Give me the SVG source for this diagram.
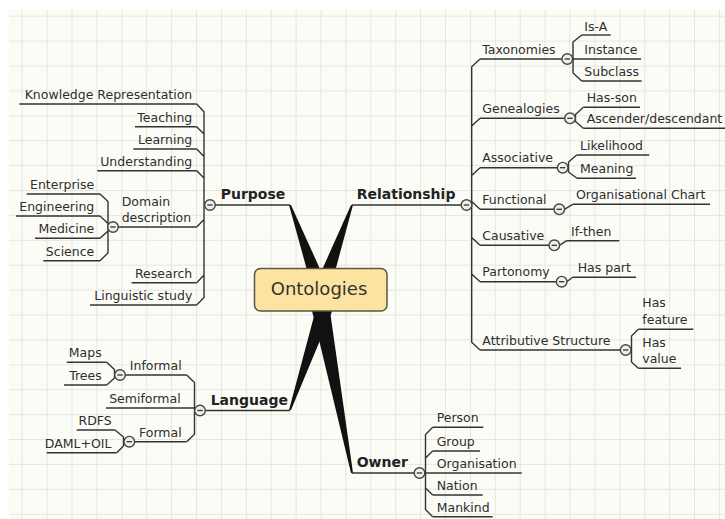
<svg xmlns="http://www.w3.org/2000/svg" width="725" height="519" viewBox="0 0 725 519">
<defs>
<pattern id="grid" patternUnits="userSpaceOnUse" x="21.7" y="15.7" width="24.9" height="24.9">
<path d="M0,0 H24.9 M0,0 V24.9" stroke="#e6e6df" stroke-width="2" fill="none"/>
</pattern>
<g id="btn"><circle r="5.3" fill="#efefec" stroke="#444" stroke-width="1.4"/><path d="M-2.7,0 H2.7" stroke="#333" stroke-width="1.3"/></g>
</defs>
<style>
text{font-family:"DejaVu Sans",Verdana,sans-serif;font-size:12.5px;fill:#2e2e2e}
.e{text-anchor:end}
.b{font-weight:bold;font-size:14px;fill:#222}
.ln{fill:none;stroke:#333;stroke-width:1.4}
.w{fill:#111}
</style>
<rect width="725" height="519" fill="#ffffff"/>
<rect x="9" y="10" width="716" height="509" fill="#fcfcf7"/>
<rect x="9" y="10" width="716" height="509" fill="url(#grid)"/>

<g id="connectors">
<polygon class="w" points="289,205 291,205 329.5,290 312.5,290"/>
<polygon class="w" points="351,205 353,205 330,290 313,290"/>
<polygon class="w" points="289,410 291,410 341,290 321,290"/>
<polygon class="w" points="351,473 353,473 327,290 307,290"/>
<path class="ln" d="M196.7,104 L204,111.7 V297.5 L196.7,305 M196.7,126.7 L204,134 M196.7,149 L204,156.5 M196.7,170.7 L204,178 M196.7,227 L204,219.5 M196.7,282.7 L204,275"/>
<path class="ln" d="M100,194 L108,201.5 V253 L100,260.7 M100,216 L108,223.5 M100,238.3 L108,231"/>
<path class="ln" d="M480,59 L471.7,66.7 V342.3 L480,350 M480,118.3 L471.7,126 M480,167.7 L471.7,175.4 M480,209.3 L471.7,201.6 M480,245.3 L471.7,237.6 M480,281.7 L471.7,274"/>
<path class="ln" d="M581.7,35 L573,42 V73 L581.7,81"/>
<path class="ln" d="M583.3,107.3 L575.5,114.5 V121.5 L583.3,128.3"/>
<path class="ln" d="M576.7,155 L568.5,162 V172 L577,178.3"/>
<path class="ln" d="M564.3,209.3 L572.7,204.3 M559.3,245.3 L566.7,240.7 M566.7,281.7 L572.7,277.3"/>
<path class="ln" d="M638.3,329.3 L631.5,336 V362 L638.3,368.3"/>
<path class="ln" d="M186.7,375 L194.5,382.5 V434.2 L186.7,441.7"/>
<path class="ln" d="M106.7,362.3 L114.5,369.5 V378 L106.7,385"/>
<path class="ln" d="M115,430 L123.5,437 V446 L116.7,452.7"/>
<path class="ln" d="M432.7,427.3 L425.5,434.5 V509.5 L432.7,516.7 M432.7,451 L425.5,458 M432.7,495 L425.5,488"/>
</g>

<g id="ontologies">
<rect x="254.5" y="268.5" width="132.5" height="42.5" rx="6" fill="#fce39f" stroke="#5a5546" stroke-width="1.5"/>
<text x="319" y="295" text-anchor="middle" style="font-size:18px;fill:#333">Ontologies</text>
</g>

<g id="purpose"><path class="ln" d="M215,205 H290"/><text class="b" x="220.7" y="199">Purpose</text><use href="#btn" x="210" y="205"/></g>
<g id="knowledge-representation"><path class="ln" d="M19.3,104 H196.7"/><text class="e" x="192.3" y="99">Knowledge Representation</text></g>
<g id="teaching"><path class="ln" d="M135,126.7 H196.7"/><text class="e" x="192.3" y="121.7">Teaching</text></g>
<g id="learning"><path class="ln" d="M133.3,149 H196.7"/><text class="e" x="192.3" y="144">Learning</text></g>
<g id="understanding"><path class="ln" d="M97.3,170.7 H196.7"/><text class="e" x="192.3" y="165.7">Understanding</text></g>
<g id="domain-description"><path class="ln" d="M118,227 H196.7"/><text x="121.7" y="206">Domain</text><text x="121.7" y="221.7">description</text><use href="#btn" x="113" y="227"/></g>
<g id="enterprise"><path class="ln" d="M26.7,194 H100"/><text class="e" x="94.3" y="189">Enterprise</text></g>
<g id="engineering"><path class="ln" d="M16,216 H100"/><text class="e" x="94.3" y="211">Engineering</text></g>
<g id="medicine"><path class="ln" d="M35,238.3 H100"/><text class="e" x="94.3" y="233.3">Medicine</text></g>
<g id="science"><path class="ln" d="M43.3,260.7 H100"/><text class="e" x="94.3" y="255.7">Science</text></g>
<g id="research"><path class="ln" d="M131.7,282.7 H196.7"/><text class="e" x="192.3" y="277.7">Research</text></g>
<g id="linguistic-study"><path class="ln" d="M90,305 H196.7"/><text class="e" x="192.3" y="300">Linguistic study</text></g>

<g id="relationship"><path class="ln" d="M352,205 H461.2"/><text class="b" x="356.7" y="199.3">Relationship</text><use href="#btn" x="466.5" y="205"/></g>
<g id="taxonomies"><path class="ln" d="M480,59 H562"/><text x="482.3" y="54">Taxonomies</text><use href="#btn" x="567.3" y="59"/></g>
<g id="is-a"><path class="ln" d="M581.7,35 H610.7"/><text x="584.3" y="30.5">Is-A</text></g>
<g id="instance"><path class="ln" d="M572.3,59 H641"/><text x="584.3" y="54">Instance</text></g>
<g id="subclass"><path class="ln" d="M581.7,81 H641.7"/><text x="584.3" y="76">Subclass</text></g>
<g id="genealogies"><path class="ln" d="M480,118.3 H565"/><text x="482.3" y="113.3">Genealogies</text><use href="#btn" x="570" y="118.3"/></g>
<g id="has-son"><path class="ln" d="M583.3,107.3 H640"/><text x="586.7" y="102.3">Has-son</text></g>
<g id="ascender-descendant"><path class="ln" d="M583.3,128.3 H725"/><text x="586.7" y="123.3">Ascender/descendant</text></g>
<g id="associative"><path class="ln" d="M480,167.7 H557.7"/><text x="482.3" y="162">Associative</text><use href="#btn" x="562.7" y="167.7"/></g>
<g id="likelihood"><path class="ln" d="M576.7,155 H649.3"/><text x="580" y="150">Likelihood</text></g>
<g id="meaning"><path class="ln" d="M577,178.3 H636"/><text x="580" y="173">Meaning</text></g>
<g id="functional"><path class="ln" d="M480,209.3 H554.3"/><text x="482.3" y="204">Functional</text><use href="#btn" x="559.3" y="209.3"/></g>
<g id="organisational-chart"><path class="ln" d="M572.7,204.3 H710"/><text x="576" y="199.3">Organisational Chart</text></g>
<g id="causative"><path class="ln" d="M480,245.3 H549.3"/><text x="482.3" y="240">Causative</text><use href="#btn" x="554.3" y="245.3"/></g>
<g id="if-then"><path class="ln" d="M566.7,240.7 H619.3"/><text x="571" y="235.7">If-then</text></g>
<g id="partonomy"><path class="ln" d="M480,281.7 H556.7"/><text x="482.3" y="276.3">Partonomy</text><use href="#btn" x="561.7" y="281.7"/></g>
<g id="has-part"><path class="ln" d="M572.7,277.3 H636"/><text x="577.7" y="272.3">Has part</text></g>
<g id="attributive-structure"><path class="ln" d="M480,350 H620.7"/><text x="482.3" y="344.7">Attributive Structure</text><use href="#btn" x="625.7" y="350"/></g>
<g id="has-feature"><path class="ln" d="M638.3,329.3 H693.3"/><text x="642.3" y="307.3">Has</text><text x="642.3" y="324">feature</text></g>
<g id="has-value"><path class="ln" d="M638.3,368.3 H681"/><text x="642.3" y="347.3">Has</text><text x="642.3" y="363.3">value</text></g>

<g id="language"><path class="ln" d="M205,410.5 H290"/><text class="b" x="210.7" y="404.5">Language</text><use href="#btn" x="200" y="410.5"/></g>
<g id="informal"><path class="ln" d="M125,375 H186.7"/><text class="e" x="181.7" y="370">Informal</text><use href="#btn" x="120" y="375"/></g>
<g id="maps"><path class="ln" d="M66.7,362.3 H106.7"/><text class="e" x="101.7" y="357.3">Maps</text></g>
<g id="trees"><path class="ln" d="M64,385 H106.7"/><text class="e" x="101.7" y="380">Trees</text></g>
<g id="semiformal"><path class="ln" d="M106,408 H195"/><text class="e" x="180.7" y="402.7">Semiformal</text></g>
<g id="formal"><path class="ln" d="M134.3,441.7 H186.7"/><text class="e" x="181.7" y="436.7">Formal</text><use href="#btn" x="129.3" y="441.7"/></g>
<g id="rdfs"><path class="ln" d="M76.7,430 H115"/><text class="e" x="111.7" y="425">RDFS</text></g>
<g id="daml-oil"><path class="ln" d="M46.7,452.7 H116.7"/><text class="e" x="111.5" y="447.7">DAML+OIL</text></g>

<g id="owner"><path class="ln" d="M351.7,473 H414.5"/><text class="b" x="356.7" y="466.5">Owner</text><use href="#btn" x="419.5" y="473"/></g>
<g id="person"><path class="ln" d="M432.7,427.3 H483.3"/><text x="436.7" y="422.3">Person</text></g>
<g id="group"><path class="ln" d="M432.7,451 H480"/><text x="436.7" y="446">Group</text></g>
<g id="organisation"><path class="ln" d="M424.5,473 H521.7"/><text x="436.7" y="467.7">Organisation</text></g>
<g id="nation"><path class="ln" d="M432.7,495 H482.7"/><text x="436.7" y="490">Nation</text></g>
<g id="mankind"><path class="ln" d="M432.7,516.7 H492.7"/><text x="436.7" y="511.7">Mankind</text></g>
</svg>
